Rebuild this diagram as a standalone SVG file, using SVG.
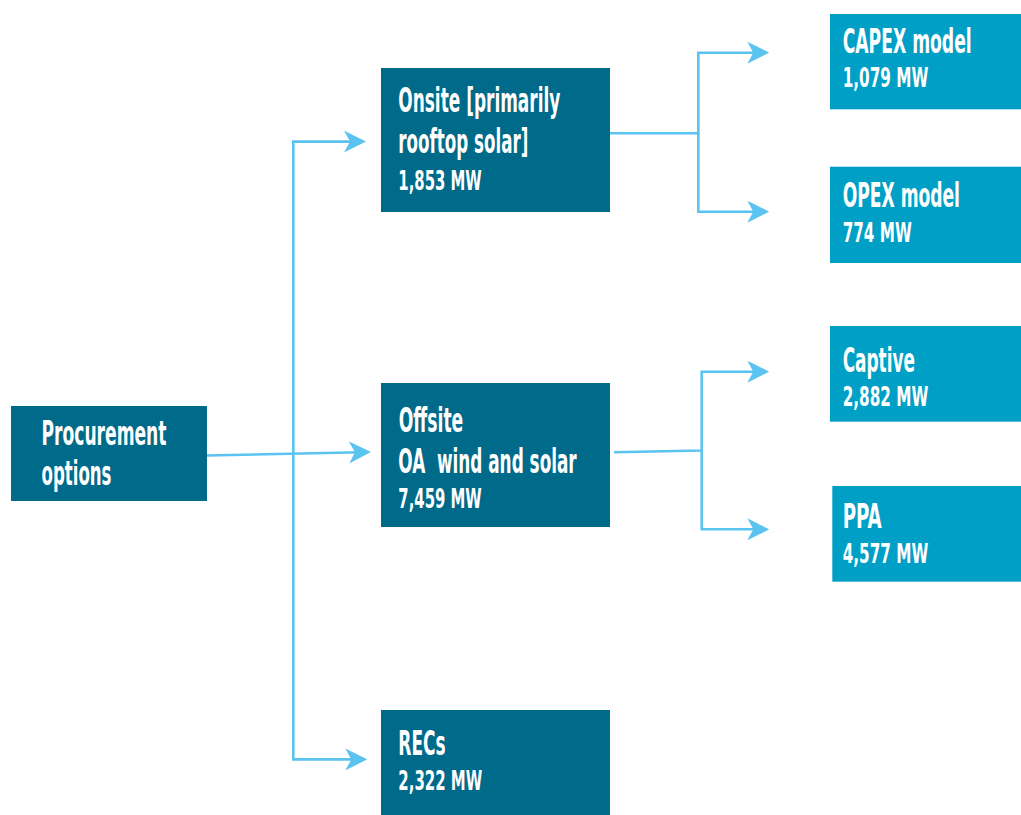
<svg xmlns="http://www.w3.org/2000/svg" width="1021" height="815" viewBox="0 0 1021 815">
<style>
.dark{fill:#006A8A}
.light{fill:#00A0C6}
.t{font-family:"Liberation Sans Narrow","DejaVu Sans Condensed","Liberation Sans",sans-serif;font-weight:bold;fill:#ffffff}
.h{font-size:33px}
.s{font-size:27px}
.pre{white-space:pre}
.c{fill:none;stroke:#5BC3EF;stroke-width:2.6;stroke-linejoin:miter}
</style>
<defs>
<marker id="ah" markerUnits="userSpaceOnUse" viewBox="0 0 22 22" refX="12" refY="11" markerWidth="22" markerHeight="22" orient="auto">
<path d="M0,0 L22,11 L0,22 L6,11 Z" fill="#5BC3EF"/>
</marker>
</defs>
<g id="connectors">
<path class="c" d="M207,455.5 L361,452.2" marker-end="url(#ah)"/>
<path class="c" d="M293.3,454 V141.6 H356" marker-end="url(#ah)"/>
<path class="c" d="M293.3,454 V759.4 H357.3" marker-end="url(#ah)"/>
<path class="c" d="M608,133.3 H698.3 V52.7 H759.3" marker-end="url(#ah)"/>
<path class="c" d="M698.3,133.3 V211.7 H759.3" marker-end="url(#ah)"/>
<path class="c" d="M614,452.3 L701.7,450.5 V371.7 H759.3" marker-end="url(#ah)"/>
<path class="c" d="M701.7,450.5 V529.3 H759.3" marker-end="url(#ah)"/>
</g>
<g id="procurement">
<rect class="dark" x="11" y="406" width="196" height="95"/>
<text class="t h" x="41.5" y="445" textLength="125" lengthAdjust="spacingAndGlyphs">Procurement</text>
<text class="t h" x="41.5" y="485" textLength="70" lengthAdjust="spacingAndGlyphs">options</text>
</g>
<g id="onsite">
<rect class="dark" x="381" y="68" width="229" height="144"/>
<text class="t h" x="398.3" y="111.7" textLength="162" lengthAdjust="spacingAndGlyphs">Onsite [primarily</text>
<text class="t h" x="398.3" y="153" textLength="130" lengthAdjust="spacingAndGlyphs">rooftop solar]</text>
<text class="t s" x="398.3" y="190" textLength="83.4" lengthAdjust="spacingAndGlyphs">1,853 MW</text>
</g>
<g id="offsite">
<rect class="dark" x="381" y="383" width="229" height="144"/>
<text class="t h" x="398.7" y="432.3" textLength="64.6" lengthAdjust="spacingAndGlyphs">Offsite</text>
<text class="t h pre" x="398.3" y="473.3" textLength="178.4" lengthAdjust="spacingAndGlyphs" xml:space="preserve">OA  wind and solar</text>
<text class="t s" x="398.3" y="508.3" textLength="83.4" lengthAdjust="spacingAndGlyphs">7,459 MW</text>
</g>
<g id="recs">
<rect class="dark" x="381" y="710" width="229" height="105"/>
<text class="t h" x="398.3" y="755" textLength="47.4" lengthAdjust="spacingAndGlyphs">RECs</text>
<text class="t s" x="398.3" y="790" textLength="84" lengthAdjust="spacingAndGlyphs">2,322 MW</text>
</g>
<g id="capex">
<rect class="light" x="830" y="14" width="191" height="95.3"/>
<text class="t h" x="842.7" y="53.3" textLength="129" lengthAdjust="spacingAndGlyphs">CAPEX model</text>
<text class="t s" x="842.7" y="86.7" textLength="85.6" lengthAdjust="spacingAndGlyphs">1,079 MW</text>
</g>
<g id="opex">
<rect class="light" x="830" y="166.7" width="191" height="96.3"/>
<text class="t h" x="842.7" y="206.7" textLength="117.3" lengthAdjust="spacingAndGlyphs">OPEX model</text>
<text class="t s" x="842.7" y="241.7" textLength="69" lengthAdjust="spacingAndGlyphs">774 MW</text>
</g>
<g id="captive">
<rect class="light" x="830" y="326" width="191" height="95.7"/>
<text class="t h" x="842.7" y="371.7" textLength="72.3" lengthAdjust="spacingAndGlyphs">Captive</text>
<text class="t s" x="842.7" y="406" textLength="85.6" lengthAdjust="spacingAndGlyphs">2,882 MW</text>
</g>
<g id="ppa">
<rect class="light" x="832.3" y="486" width="188.7" height="95.7"/>
<text class="t h" x="842.7" y="528.3" textLength="39" lengthAdjust="spacingAndGlyphs">PPA</text>
<text class="t s" x="842.7" y="562.7" textLength="85.6" lengthAdjust="spacingAndGlyphs">4,577 MW</text>
</g>
</svg>
